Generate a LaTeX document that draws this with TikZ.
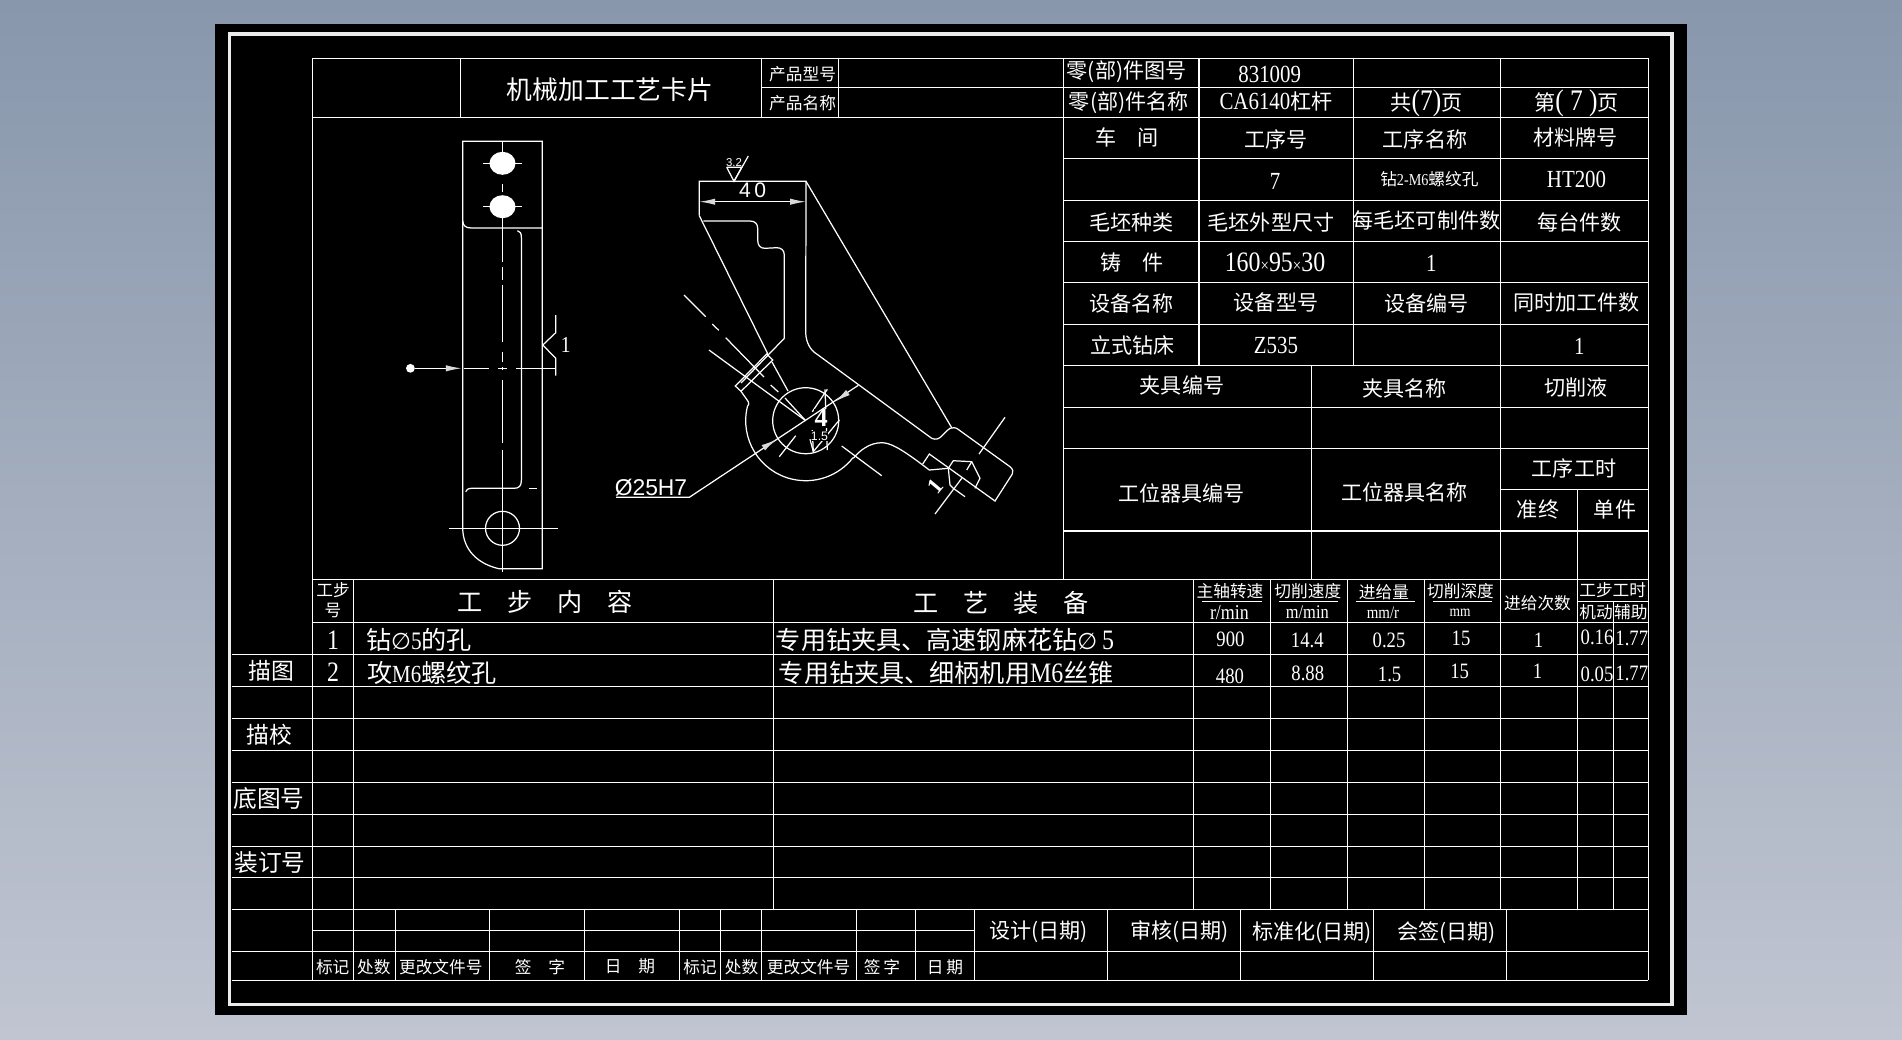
\documentclass[tikz,border=0pt]{standalone}
\usepackage{fontspec}
\setmainfont{Noto Sans CJK SC}
\newfontfamily\ser[FakeStretch=0.85]{Liberation Serif}
\newfontfamily\serb{Liberation Serif}
\newfontfamily\dimf{Liberation Sans}
\newfontfamily\dia{DejaVu Sans}
\usepackage{tikz}
\usetikzlibrary{arrows.meta, positioning}
\definecolor{skytop}{RGB}{136,151,172}
\definecolor{skybot}{RGB}{192,197,209}
\tikzset{
  tab/.style={white, line width=0.75pt},
  part/.style={white, line width=0.7pt},
  frameline/.style={white!92!black, line width=2.2pt},
  dimtip/.style={-{Latex[length=9pt,width=3.6pt,color=white!85!black]}},
  lab/.style={text=white, inner sep=0pt, font=\fontsize{12}{14}\selectfont},
  big/.style={text=white, inner sep=0pt, font=\fontsize{14.3}{16}\selectfont},
  sml/.style={text=white, inner sep=0pt, font=\fontsize{9.5}{11.4}\selectfont},
  num/.style={text=white, inner sep=0pt, font=\fontsize{14}{16}\selectfont\ser},
  val/.style={text=white, inner sep=0pt, font=\fontsize{12.5}{14}\selectfont\ser},
}
\begin{document}
\begin{tikzpicture}[x=0.02cm, y=-0.02cm]
  \useasboundingbox (0,0) rectangle (1902,1039);
  \shade[top color=skytop, bottom color=skybot] (0,0) rectangle (1902,1039);
  \fill[black] (215,24) rectangle (1687,1015);
  \draw[frameline] (229.5,34.3) rectangle (1672,1004.5);

  % header block and right hand block
  \draw[tab] (312.6,58.2) -- (1648.3,58.2);
  \draw[tab] (761.5,87.4) -- (1648.3,87.4);
  \draw[tab] (312.6,117.5) -- (1648.3,117.5);
  \draw[tab] (1063.7,158.2) -- (1648.3,158.2);
  \draw[tab] (1063.7,200.6) -- (1648.3,200.6);
  \draw[tab] (1063.7,241.3) -- (1648.3,241.3);
  \draw[tab] (1063.7,282.4) -- (1648.3,282.4);
  \draw[tab] (1063.7,324.5) -- (1648.3,324.5);
  \draw[tab] (1063.7,365.5) -- (1648.3,365.5);
  \draw[tab] (1063.7,407.2) -- (1648.3,407.2);
  \draw[tab] (1063.7,448.3) -- (1648.3,448.3);
  \draw[tab] (1500.7,489.3) -- (1648.3,489.3);
  \draw[tab] (1063.7,531) -- (1648.3,531);
  \draw[tab] (460.7,58.2) -- (460.7,117.5);
  \draw[tab] (761.5,58.2) -- (761.5,117.5);
  \draw[tab] (838.5,58.2) -- (838.5,117.5);
  \draw[tab] (1063.7,58.2) -- (1063.7,579.3);
  \draw[tab] (1199,58.2) -- (1199,365.5);
  \draw[tab] (1353.5,58.2) -- (1353.5,365.5);
  \draw[tab] (1500.7,58.2) -- (1500.7,579.3);
  \draw[tab] (1311.6,365.5) -- (1311.6,579.3);
  \draw[tab] (1577.4,489.3) -- (1577.4,579.3);

  % process rows
  \draw[tab] (312.6,579.3) -- (1648.3,579.3);
  \draw[tab] (312.6,622.3) -- (1648.3,622.3);
  \draw[tab] (231.7,654.3) -- (1648.3,654.3);
  \draw[tab] (231.7,686.3) -- (1648.3,686.3);
  \draw[tab] (231.7,718.3) -- (1648.3,718.3);
  \draw[tab] (231.7,750.3) -- (1648.3,750.3);
  \draw[tab] (231.7,782.3) -- (1648.3,782.3);
  \draw[tab] (231.7,814.3) -- (1648.3,814.3);
  \draw[tab] (231.7,846.3) -- (1648.3,846.3);
  \draw[tab] (231.7,877.3) -- (1648.3,877.3);
  \draw[tab] (231.7,909.3) -- (1648.3,909.3);
  \draw[tab] (312.6,930.3) -- (974.4,930.3);
  \draw[tab] (231.7,951.3) -- (1648.3,951.3);
  \draw[tab] (231.7,980.3) -- (1648.3,980.3);
  \draw[tab] (1577.5,601.3) -- (1648.3,601.3);
  \draw[tab] (312.6,58.2) -- (312.6,980.3);
  \draw[tab] (353.7,579.3) -- (353.7,980.3);
  \draw[tab] (773.7,579.3) -- (773.7,909.3);
  \draw[tab] (1193.5,579.3) -- (1193.5,909.3);
  \draw[tab] (1270.5,579.3) -- (1270.5,909.3);
  \draw[tab] (1347.5,579.3) -- (1347.5,909.3);
  \draw[tab] (1424.5,579.3) -- (1424.5,909.3);
  \draw[tab] (1500.7,579.3) -- (1500.7,909.3);
  \draw[tab] (1577.5,579.3) -- (1577.5,909.3);
  \draw[tab] (1613.4,601.3) -- (1613.4,909.3);
  \draw[tab] (1648.3,58.2) -- (1648.3,980.3);
  \draw[tab] (1202,601.7) -- (1262,601.7);
  \draw[tab] (1278.6,601.7) -- (1338.4,601.7);
  \draw[tab] (1356,601.7) -- (1415,601.7);
  \draw[tab] (1433,601.7) -- (1492,601.7);

  % sign off block
  \draw[tab] (395.3,909.3) -- (395.3,980.3);
  \draw[tab] (489.5,909.3) -- (489.5,980.3);
  \draw[tab] (584.7,909.3) -- (584.7,980.3);
  \draw[tab] (679.4,909.3) -- (679.4,980.3);
  \draw[tab] (720.6,909.3) -- (720.6,980.3);
  \draw[tab] (761.7,909.3) -- (761.7,980.3);
  \draw[tab] (856.4,909.3) -- (856.4,980.3);
  \draw[tab] (915.7,909.3) -- (915.7,980.3);
  \draw[tab] (974.4,909.3) -- (974.4,980.3);
  \draw[tab] (1107.4,909.3) -- (1107.4,980.3);
  \draw[tab] (1240.3,909.3) -- (1240.3,980.3);
  \draw[tab] (1373.3,909.3) -- (1373.3,980.3);
  \draw[tab] (1506.3,909.3) -- (1506.3,980.3);

  % texts of the header
  \node[big, font=\fontsize{14.7}{16}\selectfont] (title) at (610,90) {机械加工工艺卡片};
  \node[sml] (prodtype) at (802.6,74) {产品型号};
  \node[sml] (prodname) at (802.6,102.7) {产品名称};
  \node[lab] (partno) at (1126.7,71.6) {零(部)件图号};
  \node[num] (partnoval) at (1269.7,74) {831009};
  \node[lab] (partname) at (1128.8,102.4) {零(部)件名称};
  \node[lab] (partnameval) at (1276,101.4) {{\ser\fontsize{14}{16}\selectfont CA6140}杠杆};
  \node[lab] (pagesall) at (1426.5,103.8) {共{\ser\fontsize{17}{18}\selectfont (7)}页};
  \node[lab] (pagethis) at (1576.5,103.8) {第{\ser\fontsize{17}{18}\selectfont ( 7 )}页};
  \node[lab] (shop) at (1126.7,137.5) {车　间};
  \node[lab] (opno) at (1276,139) {工序号};
  \node[lab] (opname) at (1425,139) {工序名称};
  \node[lab] (material) at (1575.7,137.5) {材料牌号};
  \node[num] (opnoval) at (1275,181) {7};
  \node[sml] (opnameval) at (1429.4,179.6) {钻{\ser 2-M6}螺纹孔};
  \node[num] (materialval) at (1576.5,179) {HT200};
  \node[lab] (blank) at (1131.7,222.4) {毛坯种类};
  \node[lab] (blanksize) at (1271,222.4) {毛坯外型尺寸};
  \node[lab] (perblank) at (1426.5,220.6) {每毛坯可制件数};
  \node[lab] (permach) at (1579.4,222.4) {每台件数};
  \node[lab] (blankval) at (1132,262) {铸　件};
  \node[num, font=\fontsize{16}{18}\selectfont\ser] (sizeval) at (1275,262) {160{\fontsize{10}{12}\selectfont ×}95{\fontsize{10}{12}\selectfont ×}30};
  \node[num] (perblankval) at (1431.4,263.8) {1};
  \node[lab] (machname) at (1131.7,303) {设备名称};
  \node[lab] (machtype) at (1276,302) {设备型号};
  \node[lab] (machno) at (1426.5,303.8) {设备编号};
  \node[lab] (simult) at (1576.5,302) {同时加工件数};
  \node[lab] (machnameval) at (1132.5,345) {立式钻床};
  \node[num] (machtypeval) at (1276,345) {Z535};
  \node[num] (simultval) at (1579.4,345.9) {1};
  \node[lab] (fixno) at (1182,385.5) {夹具编号};
  \node[lab] (fixname) at (1404.5,388.3) {夹具名称};
  \node[lab] (coolant) at (1575.7,387) {切削液};
  \node[lab] (toolno) at (1181.4,493.5) {工位器具编号};
  \node[lab] (toolname) at (1404.5,492.5) {工位器具名称};
  \node[lab] (optime) at (1574,468) {工序工时};
  \node[lab] (prep) at (1538,509.3) {准终};
  \node[lab] (unit) at (1615,509.3) {单件};

  % texts of the process rows
  \node[sml, align=center] (stepno) at (333,600) {工步\\号};
  \node[big] (stephead) at (545,601.7) {工　步　内　容};
  \node[big] (equiphead) at (1001,603) {工　艺　装　备};
  \node[sml] (spindle) at (1230,591) {主轴转速};
  \node[num, font=\fontsize{12}{14}\selectfont\ser] (spindleu) at (1229.4,612.7) {r/min};
  \node[sml] (cutspeed) at (1307.8,590.7) {切削速度};
  \node[val, font=\fontsize{11}{13}\selectfont\ser] (cutspeedu) at (1307.3,612) {m/min};
  \node[sml] (feed) at (1384,591.7) {进给量};
  \node[val, font=\fontsize{10}{12}\selectfont\ser] (feedu) at (1383,612.7) {mm/r};
  \node[sml] (depth) at (1460.5,591) {切削深度};
  \node[val, font=\fontsize{9}{11}\selectfont\ser] (depthu) at (1460,613) {mm};
  \node[sml] (passes) at (1537.5,602.7) {进给次数};
  \node[sml] (steptime) at (1612.7,590) {工步工时};
  \node[sml] (machtime) at (1596,612) {机动};
  \node[sml] (auxtime) at (1630.8,612) {辅助};
  \node[num, font=\fontsize{16}{18}\selectfont\ser] (stepa) at (333,640) {1};
  \node[big, anchor=west] (stepatxt) at (365.7,640) {钻{\dia\fontsize{13}{15}\selectfont ∅}{\ser 5}的孔};
  \node[big, anchor=west] (stepaeq) at (775.6,640) {专用钻夹具、高速钢麻花钻{\dia\fontsize{13}{15}\selectfont ∅}{\ser\fontsize{16}{18}\selectfont\,5}};
  \node[val] (asp) at (1230.4,639) {900};
  \node[val] (acut) at (1307.3,640) {14.4};
  \node[val] (afeed) at (1389,640) {0.25};
  \node[val] (adep) at (1461,638) {15};
  \node[val] (apass) at (1538.5,640) {1};
  \node[val] (amach) at (1597,637.7) {0.16};
  \node[val] (aaux) at (1631.8,638) {1.77};
  \node[num, font=\fontsize{16}{18}\selectfont\ser] (stepb) at (333,672) {2};
  \node[big, anchor=west] (stepbtxt) at (366.7,673) {攻{\ser\fontsize{14}{16}\selectfont M6}螺纹孔};
  \node[big, anchor=west] (stepbeq) at (778.6,673) {专用钻夹具、细柄机用{\ser\fontsize{16}{18}\selectfont M6}丝锥};
  \node[val] (bsp) at (1229.9,676.7) {480};
  \node[val] (bcut) at (1307.8,673) {8.88};
  \node[val] (bfeed) at (1389.6,674) {1.5};
  \node[val] (bdep) at (1459.6,671.7) {15};
  \node[val] (bpass) at (1537.5,671.7) {1};
  \node[val] (bmach) at (1597,674) {0.05};
  \node[val] (baux) at (1631.8,673) {1.77};
  \node[lab, font=\fontsize{13}{15}\selectfont] (trace) at (271,671) {描图};
  \node[lab, font=\fontsize{13}{15}\selectfont] (tracechk) at (269,735) {描校};
  \node[lab, font=\fontsize{13.5}{15}\selectfont] (baseno) at (269,798) {底图号};
  \node[lab, font=\fontsize{13.5}{15}\selectfont] (bindno) at (270,862.7) {装订号};

  % texts of the sign off block
  \node[sml] (marka) at (332.7,966.7) {标记};
  \node[sml] (counta) at (373.8,966.7) {处数};
  \node[sml] (chga) at (440.8,966.7) {更改文件号};
  \node[sml] (signa) at (540,967) {签　字};
  \node[sml] (datea) at (630,966) {日　期};
  \node[sml] (markb) at (700,966.7) {标记};
  \node[sml] (countb) at (741.6,966.7) {处数};
  \node[sml] (chgb) at (808.6,966.7) {更改文件号};
  \node[sml] (signb) at (882,967) {签\,字};
  \node[sml] (dateb) at (945,967) {日\,期};
  \node[lab] (design) at (1038.5,931.7) {设计(日期)};
  \node[lab] (review) at (1179.6,931.7) {审核(日期)};
  \node[lab] (stdz) at (1312,932.3) {标准化(日期)};
  \node[lab] (counter) at (1446.5,932.7) {会签(日期)};

  % side view
  \draw[part] (462.7,528.3) -- (462.7,141.3) -- (542.3,141.3) -- (542.3,568.7) -- (499,568.7)
    .. controls (478,564) and (463,550) .. (462.7,528.3);
  \draw[part] (462.7,221) .. controls (463,226) and (466,228) .. (471.6,228) -- (542.3,228);
  \draw[part] (517.4,230.7) .. controls (520,231) and (521.4,233) .. (521.4,238) -- (521.4,480)
    .. controls (521.4,486) and (519,488.3) .. (514,488.3) -- (471.6,488.3)
    .. controls (468,488.3) and (466,490) .. (465.7,491.7);
  \draw[part] (529,488.3) -- (537,488.3);
  \draw[part] (502.5,141.3) -- (502.5,152);
  \draw[part] (502.5,184) -- (502.5,192);
  \draw[part] (502.5,217) -- (502.5,262);
  \draw[part] (502.5,267) -- (502.5,280);
  \draw[part] (502.5,285) -- (502.5,342);
  \draw[part] (502.5,352) -- (502.5,362);
  \draw[part] (502.5,367) -- (502.5,370);
  \draw[part] (502.5,380) -- (502.5,443);
  \draw[part] (502.5,450) -- (502.5,572);
  \fill[white] (502.5,163.3) ellipse (13 and 11.5);
  \fill[white] (502.5,206.7) ellipse (13 and 11.5);
  \draw[part] (483,163.3) -- (522.4,163.3);
  \draw[part] (483,206.7) -- (522.4,206.7);
  \draw[part] (502.5,528.3) circle (17);
  \draw[part] (449.3,528.3) -- (557.7,528.3);
  \node[circle, fill=white, inner sep=0pt, minimum size=5pt] (secdot) at (410.4,368.3) {};
  \coordinate (sectip) at (461.7,368.3);
  \draw[part, dimtip] (secdot) -- (sectip);
  \draw[part] (464,368.3) -- (489,368.3);
  \draw[part] (498,368.3) -- (506.5,368.3);
  \draw[part] (516.4,368.3) -- (556,368.3);
  \draw[part] (555.7,315) -- (555.7,332.7) -- (542.8,345) -- (555.7,358.3) -- (555.7,375.7);
  \node[num, font=\fontsize{13}{15}\selectfont\ser] (roughside) at (565.7,345) {1};

  % front view
  \draw[part] (699.3,215.7) -- (699.3,181.3) -- (806,181.3) -- (805.7,332.7)
    .. controls (806,342) and (810,350) .. (816.7,354) -- (931.7,438.3)
    .. controls (940,442) and (943,433) .. (950,428.3) .. controls (953,427.5) and (955,427.5) .. (956.7,428.3)
    -- (1010,466.7) .. controls (1013,469) and (1013.5,472) .. (1012.3,474) -- (995,501) -- (929.3,454) -- (922.7,464);
  \draw[part] (806,181.3) -- (951.7,427.7);
  \draw[part] (699.3,215.7) -- (768.3,355);
  \draw[part] (703.3,221) -- (750,221) .. controls (755,221) and (757.7,224) .. (757.7,228.3) -- (757.7,240)
    .. controls (757.7,245) and (760,248.5) .. (765,248.3) -- (776.7,247.7)
    .. controls (781,247.7) and (784.3,250) .. (784.3,255) -- (784.3,338.3) -- (741,383);
  \draw[part] (735.3,386) -- (766.7,354) -- (772.7,360) -- (741,391.3) -- cycle;
  \draw[part] (741,391.3) -- (748.3,401.7) .. controls (749,403) and (749,405) .. (747.3,406.7);
  \draw[part] (805.7,420.7) ++(193.5:60) arc (193.5:38:60);
  \draw[part] (853.3,458.3) .. controls (860,450) and (870,442.7) .. (881.7,442.7)
    .. controls (890,442.7) and (900,448.3) .. (918.3,461.7) -- (929.3,470) -- (948.3,468.3);
  \draw[part] (948.3,468.3) -- (953.3,460.7) -- (971.7,461.7) -- (980,478.3) -- (975,488.3);
  \draw[part] (948.3,468.3) -- (950,485) -- (953.3,488.3) -- (965,496.7);
  \draw[part] (971.7,461.7) -- (966.7,470);
  \draw[part] (935,514) -- (961.7,478.3);
  \draw[part] (1005,417.3) -- (979,454);
  \node[text=white, inner sep=0pt, font=\fontsize{13}{15}\selectfont\serb\bfseries, rotate=50] (roughfoot) at (935,486.7) {1};

  % center hole and its lines
  \draw[part] (805.7,420.7) circle (33);
  \draw[part] (684,295) -- (705.7,316.7);
  \draw[part] (712.3,324) -- (718.7,330.3);
  \draw[part] (725.7,337.7) -- (764,377);
  \draw[part] (770.7,385) -- (778.3,392);
  \draw[part] (785,398) -- (805.7,420.7);
  \draw[part] (709,350) -- (805.7,420.7);
  \draw[part] (772,362) -- (788,391);
  \draw[part] (779.3,456.7) -- (795.7,435.7);
  \draw[part] (841.7,446) -- (881.7,475.7);
  \draw[part] (812.3,411.7) -- (827.3,389.3);
  \draw[part] (825,389.3) -- (827.3,450);
  \draw[part] (813.3,451.7) -- (839.3,420);
  \draw[part] (812.3,430) -- (813.3,451.7);
  \draw[part] (810,439.3) -- (813.3,451.7);
  \node[text=white, fill=black, inner sep=0.5pt, font=\fontsize{15}{17}\selectfont\serb\bfseries] (holelab) at (821.3,418.3) {4};
  \node[text=white, fill=black, inner sep=0.2pt, font=\fontsize{7}{8}\selectfont\dimf] (holesym) at (819.5,436) {1.5};

  % dimensions
  \draw[part] (616,497.3) -- (689.3,497.3) -- (858.3,385.3);
  \draw[part, dimtip] (765,446.7) -- (776.7,439.3);
  \draw[part, dimtip] (846.7,393.3) -- (835,401.7);
  \node[text=white, inner sep=0pt, font=\fontsize{13}{15}\selectfont\dimf] (borelab) at (651,487.5) {Ø25H7};
  \coordinate (widthl) at (699.3,201.7);
  \coordinate (widthr) at (806,201.7);
  \draw[part, dimtip] (752,201.7) -- (widthl);
  \draw[part, dimtip] (752,201.7) -- (widthr);
  \node[text=white, inner sep=0pt, font=\fontsize{12}{14}\selectfont\dimf] (widthlab) at (752.7,190.7) {4\,0};
  \draw[part] (726.7,167.3) -- (741.7,167.3) -- (734,181.3) -- (726.7,167.3);
  \draw[part] (734,181.3) -- (748.3,156);
  \node[text=white, inner sep=0pt, font=\fontsize{6.5}{8}\selectfont\dimf] (roughtop) at (734,163) {3.2};
\end{tikzpicture}
\end{document}
